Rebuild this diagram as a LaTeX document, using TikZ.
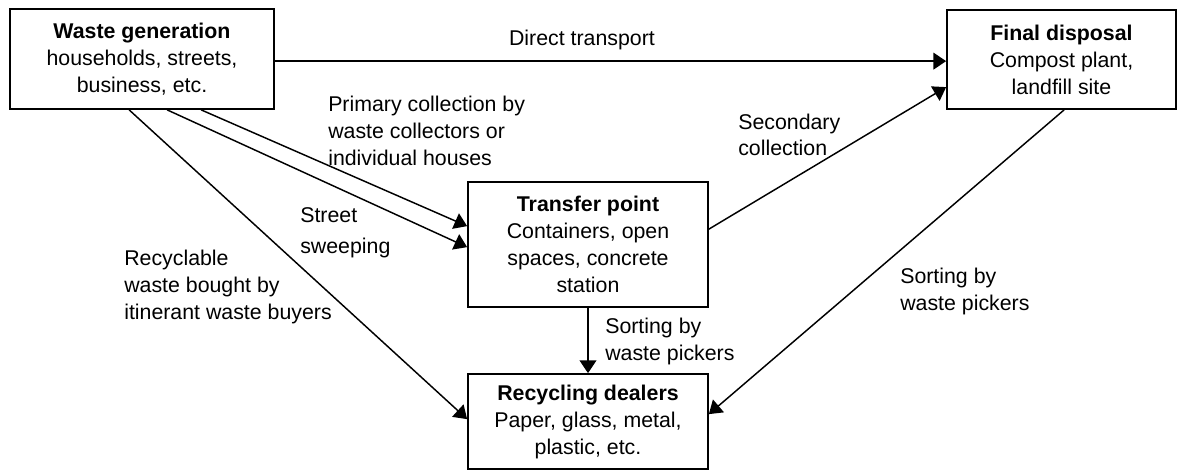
\documentclass[tikz,border=0pt]{standalone}
\usepackage{fontspec}
\setmainfont{Liberation Sans}
\usetikzlibrary{arrows.meta,calc}
\begin{document}
\begin{tikzpicture}[x=0.75pt,y=-0.75pt,
  box/.style={draw, line width=1.3pt, inner sep=0pt, align=center,
    font=\fontsize{16}{20.25}\selectfont},
  flow/.style={line width=1.1pt, -{Triangle[length=9.5pt,width=12.5pt]}},
  lbl/.style={align=left, inner sep=0pt, anchor=west,
    font=\fontsize{16}{20}\selectfont}]
\useasboundingbox (0,0) rectangle (1178,473);

% boxes
\node[box, minimum width=198pt, minimum height=75pt] (wg) at (142,59)
  {\textbf{Waste generation}\\households, streets,\\business, etc.};
\node[box, minimum width=171.75pt, minimum height=74.25pt] (fd) at (1061.5,59.5)
  {\textbf{Final disposal}\\Compost plant,\\landfill site};
\node[box, minimum width=180pt, minimum height=93.75pt] (tp) at (588,244.5)
  {\textbf{Transfer point}\\Containers, open\\spaces, concrete\\station};
\node[box, minimum width=180pt, minimum height=71.25pt] (rd) at (588,421.5)
  {\textbf{Recycling dealers}\\Paper, glass, metal,\\plastic, etc.};

% flows
\draw[flow] ($(wg.north east)+(0,53)$) -- ($(fd.north west)+(0,52)$);
\draw[flow] ($(wg.south west)+(192,0)$) -- ($(tp.north west)+(0,45)$);
\draw[flow] ($(wg.south west)+(158,0)$) -- ($(tp.north west)+(0,66)$);
\draw[flow] ($(wg.south west)+(120,0)$) -- ($(rd.north west)+(0,46)$);
\draw[flow] ($(tp.north east)+(0,48)$) -- ($(fd.north west)+(0,78)$);
\draw[flow] (tp.south) -- (rd.north);
\draw[flow] ($(fd.south west)+(118,0)$) -- ($(rd.north east)+(0,41)$);

% labels
\node[lbl, anchor=center] (l1) at (582,40) {Direct transport};
\node[lbl] (l2) at (328,131) {Primary collection by\\waste collectors or\\individual houses};
\node[lbl] (l3) at (300,232.5) {Street\\[3pt]sweeping};
\node[lbl] (l4) at (124,287) {Recyclable\\waste bought by\\itinerant waste buyers};
\node[lbl] (l5) at (738,135) {Secondary\\collection};
\node[lbl] (l6) at (605,341.5) {Sorting by\\waste pickers};
\node[lbl] (l7) at (900,291.5) {Sorting by\\waste pickers};
\end{tikzpicture}
\end{document}
